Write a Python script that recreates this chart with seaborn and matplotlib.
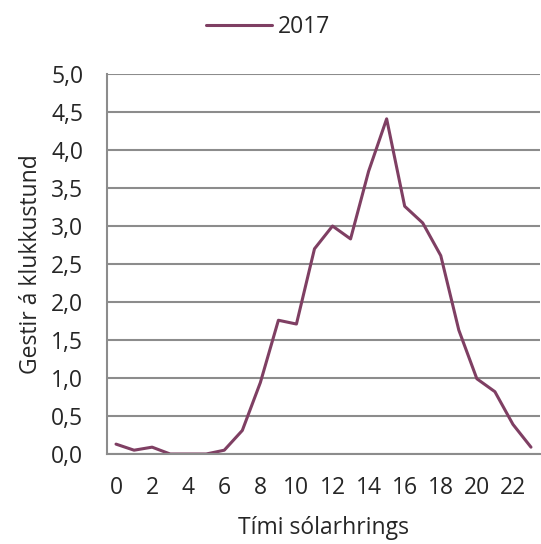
import numpy as np
import pandas as pd
import seaborn as sns
import matplotlib.pyplot as plt

hours = list(range(24))
visitors_2017 = [0.13, 0.05, 0.09, 0.0, 0.0, 0.0, 0.05, 0.31, 0.94, 1.76,
                 1.71, 2.70, 3.00, 2.83, 3.72, 4.41, 3.26, 3.04, 2.61, 1.63,
                 0.99, 0.82, 0.39, 0.09]
y_ticks = [0, 0.5, 1.0, 1.5, 2.0, 2.5, 3.0, 3.5, 4.0, 4.5, 5.0]

df = pd.DataFrame({"Tími sólarhrings": hours, "Gestir á klukkustund": visitors_2017,
                   "Ár": "2017"})

sns.set_style("white")
plt.rcParams["font.family"] = ["Open Sans", "DejaVu Sans"]

fig = plt.figure(figsize=(5.41, 5.44), dpi=100)
ax = fig.add_axes([107 / 541, 1 - 454 / 544, 433 / 541, 380 / 544])

grid_c = "#8c8c8c"
line_c = "#7f3f63"
fs = 16.5

sns.lineplot(data=df, x="Tími sólarhrings", y="Gestir á klukkustund", hue="Ár",
             palette=[line_c], linewidth=2.2, ax=ax, legend=False)

ax.set_xlim(-0.5, 23.5)
ax.set_ylim(0, 5.0)
ax.set_yticks(y_ticks)
ax.set_yticklabels([f"{v:.1f}".replace(".", ",") for v in y_ticks])
ax.set_xticks(hours[::2])
ax.set_xticklabels([str(h) for h in hours[::2]])
ax.set_xticks(np.arange(-0.5, 24, 1), minor=True)
ax.tick_params(axis="x", which="major", length=0, pad=16, labelsize=fs)
ax.tick_params(axis="x", which="minor", length=6, width=1.5, color=grid_c)
ax.tick_params(axis="y", which="major", length=6, width=1.5, color=grid_c,
               pad=11, labelsize=fs)

ax.grid(axis="y", color=grid_c, linewidth=1.5)
ax.set_axisbelow(True)
for side in ["top", "right"]:
    ax.spines[side].set_visible(False)
for side in ["left", "bottom"]:
    ax.spines[side].set_color(grid_c)
    ax.spines[side].set_linewidth(1.5)

ax.set_xlabel("Tími sólarhrings", fontsize=fs, labelpad=11)
ax.set_ylabel("Gestir á klukkustund", fontsize=fs, labelpad=6)

handle = plt.Line2D([], [], color=line_c, linewidth=2.2)
fig.legend([handle], ["2017"], loc="upper center", bbox_to_anchor=(0.495, 1.01),
           frameon=False, fontsize=fs, handlelength=2.9, handletextpad=0.25)

fig.savefig("out.png", dpi=100)
